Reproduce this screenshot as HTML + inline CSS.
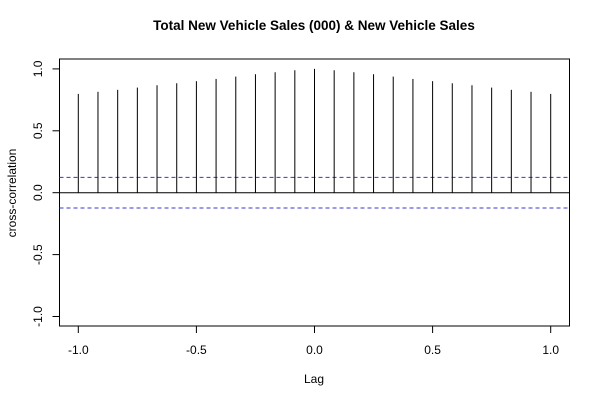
<!DOCTYPE html>
<html><head><meta charset="utf-8"><style>
body{margin:0;background:#fff}
svg text{font-family:"Liberation Sans",Arial,sans-serif;fill:#000}
</style></head><body>
<svg id="c" width="600" height="400" xmlns="http://www.w3.org/2000/svg">
<text x="314" y="30" text-anchor="middle" font-size="13.5" font-weight="bold">Total New Vehicle Sales (000) &amp; New Vehicle Sales</text>
<text x="314" y="383" text-anchor="middle" font-size="12">Lag</text>
<text transform="translate(16,193) rotate(-90)" text-anchor="middle" font-size="12">cross-correlation</text>
<rect x="59.5" y="59" width="510" height="267" fill="none" stroke="#000" stroke-width="1"/>
<g id="g"></g>
</svg>
<script>
const lags=[-1,-0.9167,-0.8333,-0.75,-0.6667,-0.5833,-0.5,-0.4167,-0.3333,-0.25,-0.1667,-0.0833,0,0.0833,0.1667,0.25,0.3333,0.4167,0.5,0.5833,0.6667,0.75,0.8333,0.9167,1];
const acf=[0.798,0.815,0.831,0.849,0.868,0.884,0.901,0.919,0.938,0.957,0.973,0.989,1.0,0.989,0.973,0.957,0.938,0.919,0.901,0.884,0.868,0.849,0.831,0.815,0.798];
const ci=[0.124];
const xTicks=[-1,-0.5,0,0.5,1];
const xTickLabels=["-1.0","-0.5","0.0","0.5","1.0"];
const yTicks=[-1,-0.5,0,0.5,1];
const yTickLabels=["-1.0","-0.5","0.0","0.5","1.0"];
const X=v=>314.5+v*236.2, Y=v=>192.7-v*123.8;
const g=document.getElementById('g'),NS='http://www.w3.org/2000/svg';
function mk(t,a){const e=document.createElementNS(NS,t);for(const k in a)e.setAttribute(k,a[k]);g.appendChild(e);return e;}
xTicks.forEach((v,i)=>{
 const l=mk('line',{x1:X(v),x2:X(v),y1:326,y2:333,stroke:'#000'});
 
 
 const t=mk('text',{x:X(v),y:354,'text-anchor':'middle','font-size':12});t.textContent=xTickLabels[i];
 
 
});
yTicks.forEach((v,i)=>{
 const l=mk('line',{x1:52.5,x2:59.5,y1:Y(v),y2:Y(v),stroke:'#000'});
 
 
 const t=mk('text',{x:0,y:0,'text-anchor':'middle','font-size':12,transform:`translate(42,${Y(v)}) rotate(-90)`});t.textContent=yTickLabels[i];
 
 
});
const z=mk('line',{x1:59.5,x2:569.5,y1:Y(0),y2:Y(0),stroke:'#000'});


[ci[0],-ci[0]].forEach(c=>{
 const l=mk('line',{x1:59.5,x2:569.5,y1:Y(c),y2:Y(c),stroke:'#3838c8','stroke-dasharray':'4,3'});
 
 
});
lags.forEach((v,i)=>{
 const l=mk('line',{x1:X(v),x2:X(v),y1:Y(0),y2:Y(acf[i]),stroke:'#000'});
 
 
});
</script>
</body></html>
